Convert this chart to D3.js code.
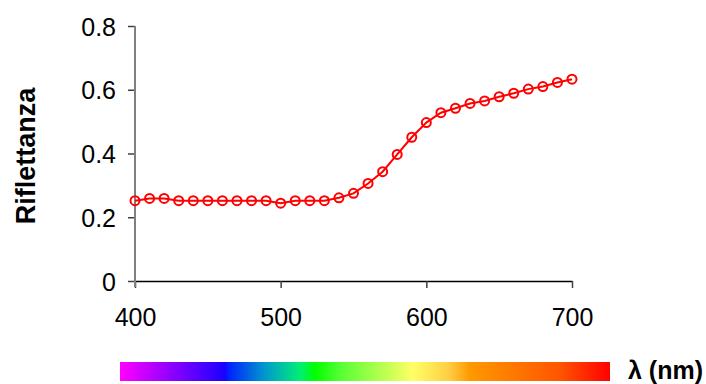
<!DOCTYPE html>
<html>
<head>
<meta charset="utf-8">
<script src="https://cdn.jsdelivr.net/npm/d3@7"></script>
<style>
html,body{margin:0;padding:0;background:#fff;}
svg{display:block;font-family:"Liberation Sans",Arial,sans-serif;}
</style>
</head>
<body>
<svg id="chart" width="706" height="384"></svg>
<script>
const wavelengths = [400,410,420,430,440,450,460,470,480,490,500,510,520,530,540,550,560,570,580,590,600,610,620,630,640,650,660,670,680,690,700];
const reflectance = [0.252,0.259,0.259,0.252,0.252,0.252,0.252,0.252,0.252,0.252,0.244,0.252,0.252,0.252,0.261,0.275,0.306,0.343,0.397,0.451,0.497,0.528,0.542,0.557,0.565,0.578,0.589,0.602,0.610,0.623,0.633];
const xTicks = [400,500,600,700];
const yTicks = [0,0.2,0.4,0.6,0.8];
const spectrumStops = [
  [0.000,"#ff00ff"],[0.214,"#1a00ff"],[0.222,"#0022ff"],[0.296,"#0099cc"],
  [0.367,"#00ee77"],[0.398,"#00ff00"],[0.449,"#55ff33"],[0.598,"#ffff66"],
  [0.673,"#ffcc44"],[0.714,"#ff9900"],[0.898,"#ff5500"],[1.000,"#ff0000"]
];

const svg = d3.select("#chart");
const x = d3.scaleLinear().domain([400,700]).range([135,572]);
const y = d3.scaleLinear().domain([0,0.8]).range([281,26]);

// Y axis
const yAxis = svg.append("g").attr("transform","translate(135,0)")
  .call(d3.axisLeft(y).tickValues(yTicks).tickSize(7).tickSizeOuter(0)
    .tickFormat(d => d===0 ? "0" : d.toFixed(1)));
yAxis.select(".domain").remove();
yAxis.selectAll(".tick line").attr("stroke","#404040").attr("stroke-width",1.5);
yAxis.selectAll(".tick text").attr("x",-19).attr("dy","0.36em").attr("font-size",25).attr("fill","#000")
  .attr("font-family","Liberation Sans, Arial, sans-serif");

// X axis
const xAxis = svg.append("g").attr("transform","translate(0,281)")
  .call(d3.axisBottom(x).tickValues(xTicks).tickSize(7).tickSizeOuter(0));
xAxis.select(".domain").attr("stroke","#000").attr("stroke-width",1.5);
xAxis.selectAll(".tick line").attr("stroke","#404040").attr("stroke-width",1.5);
xAxis.selectAll(".tick text").attr("y",45).attr("dy","0").attr("font-size",25).attr("fill","#000")
  .attr("font-family","Liberation Sans, Arial, sans-serif");

// y axis line (gray)
svg.append("line").attr("x1",x(400)).attr("x2",x(400)).attr("y1",y(0.8)).attr("y2",y(0)+6)
  .attr("stroke","#808080").attr("stroke-width",2);

// Y label
svg.append("text").attr("transform","translate(35,156) rotate(-90)")
  .attr("text-anchor","middle").attr("font-size",27).attr("font-weight","bold")
  .text("Riflettanza");

// Line + markers
const line = d3.line().x((d,i)=>x(wavelengths[i])).y(d=>y(d));
svg.append("path").datum(reflectance).attr("d",line)
  .attr("fill","none").attr("stroke","#ff0000").attr("stroke-width",2);
svg.append("g").selectAll("circle").data(reflectance).join("circle")
  .attr("cx",(d,i)=>x(wavelengths[i])).attr("cy",d=>y(d)).attr("r",4.5)
  .attr("fill","none").attr("stroke","#ff0000").attr("stroke-width",2);

// Spectrum bar
const defs = svg.append("defs");
const grad = defs.append("linearGradient").attr("id","spec").attr("x1","0%").attr("x2","100%");
grad.selectAll("stop").data(spectrumStops).join("stop")
  .attr("offset",d=>d[0]).attr("stop-color",d=>d[1]);
svg.append("rect").attr("x",120).attr("y",362).attr("width",490).attr("height",19)
  .attr("fill","url(#spec)");

svg.append("text").attr("x",703).attr("y",379).attr("text-anchor","end")
  .attr("font-size",25).attr("font-weight","bold")
  .text("λ (nm)");
</script>
</body>
</html>
